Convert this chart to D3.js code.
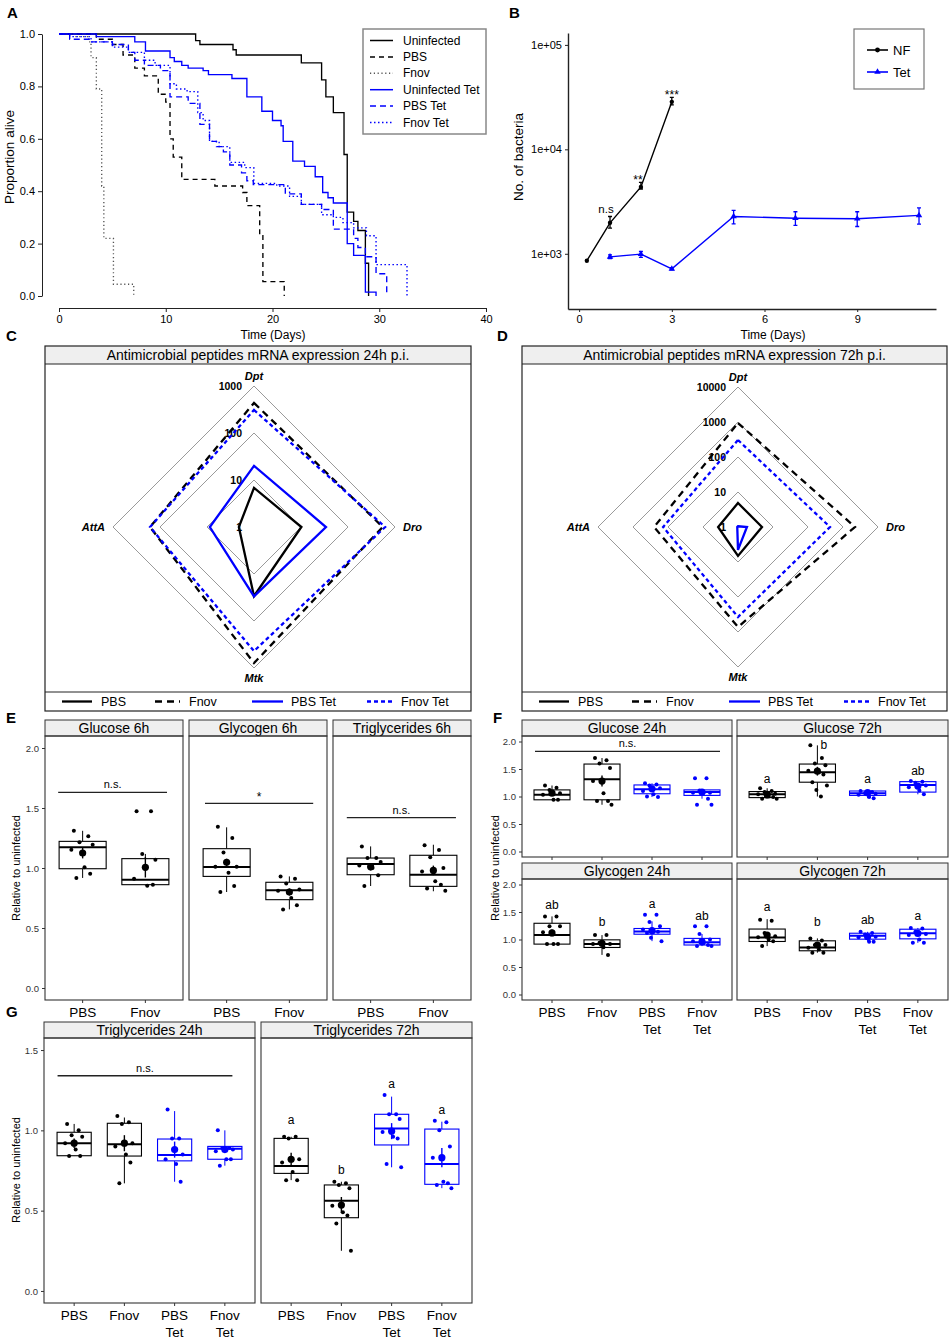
<!DOCTYPE html>
<html><head><meta charset="utf-8">
<script src="https://cdn.jsdelivr.net/npm/d3@7"></script>
<style>
body{margin:0;background:#fff;}
svg{font-family:"Liberation Sans",Arial,Helvetica,sans-serif;}
</style></head><body>
<script>
// ================= DATA =================
// Panel A : Kaplan-Meier survival, [day, proportion alive]
const survUninfected = [[0,1],[12.8,0.975],[13.2,0.96],[16.3,0.94],[16.6,0.92],[22.7,0.89],[24.6,0.825],[25,0.76],[25.7,0.70],[26.7,0.54],[27,0.32],[27.6,0.285],[28,0.25],[28.7,0.125],[29,0]];
const survPBS = [[0,1],[3.5,0.98],[5,0.96],[6,0.92],[7.1,0.87],[8,0.84],[9.3,0.77],[10,0.74],[10.4,0.60],[10.7,0.53],[11.5,0.445],[14.6,0.42],[17.2,0.395],[17.6,0.345],[18.8,0.23],[19.1,0.055],[21.1,0]];
const survFnov = [[0,1],[1.5,0.99],[2.8,0.97],[3.0,0.91],[3.5,0.79],[4,0.42],[4.2,0.22],[5.1,0.045],[7,0]];
const survUninfTet = [[0,1],[3.5,0.99],[7.1,0.97],[8.1,0.935],[10.4,0.91],[10.8,0.895],[11.5,0.88],[12.1,0.87],[13.5,0.86],[14,0.845],[16.2,0.83],[17.6,0.76],[19,0.705],[20,0.67],[20.8,0.65],[21,0.59],[21.9,0.515],[23,0.495],[24,0.455],[24.7,0.395],[25.2,0.375],[25.7,0.355],[27,0.2],[27.6,0.155],[28.7,0.015],[29.7,0]];
const survPBSTet = [[0,1],[1,0.98],[3,0.97],[5,0.96],[6.5,0.93],[7.1,0.9],[8,0.88],[9.5,0.86],[10.4,0.76],[12.1,0.735],[13.2,0.655],[14.1,0.59],[14.75,0.57],[15.4,0.55],[16,0.5],[17.1,0.47],[17.6,0.44],[18.2,0.425],[21.2,0.39],[22.7,0.35],[24.6,0.33],[25.7,0.255],[27.6,0.22],[28,0.185],[28.7,0.15],[29.7,0.085],[30.7,0]];
const survFnovTet = [[0,1],[1,0.99],[3,0.97],[5,0.95],[6.5,0.93],[8,0.9],[9,0.88],[10.4,0.81],[11,0.79],[12,0.78],[13,0.7],[13.5,0.67],[14.1,0.59],[15,0.57],[16,0.51],[17.4,0.49],[18.25,0.43],[20.4,0.42],[21.6,0.38],[22.7,0.35],[24.6,0.31],[25.7,0.3],[26.6,0.28],[27.6,0.26],[28.8,0.23],[29.7,0.12],[32.6,0]];
const survLabels = ["Uninfected","PBS","Fnov","Uninfected Tet","PBS Tet","Fnov Tet"];
const survXTicks = [0,10,20,30,40];
const survYTicks = [0,0.2,0.4,0.6,0.8,1.0];

// Panel B : bacterial load
const nfDays = [0.25,1,2,3];
const nfVals = [858,1980,4370,28500];
const nfLo = [858,1763,4170,26700];
const nfHi = [858,2275,4820,31400];
const nfSig = ["","n.s","**","***"];
const tetDays = [1,2,3,5,7,9,11];
const tetVals = [935,993,717,2275,2190,2165,2330];
const tetLo = [900,922,700,1937,1867,1825,1924];
const tetHi = [975,1052,735,2600,2525,2525,2755];
const bLegend = ["NF","Tet"];
const bXTicks = [0,3,6,9];
const bYTicks = [1e3,1e4,1e5];

// Panels C, D : AMP expression radar (fold change), genes clockwise from top
const ampGenes = ["Dpt","Dro","Mtk","AttA"];
const ampGroups = ["PBS","Fnov","PBS Tet","Fnov Tet"];
const amp24PBS = [6.8,10.2,29.6,2.1];
const amp24Fnov = [437,550,785,163];
const amp24PBSTet = [20,34,30,8.7];
const amp24FnovTet = [309,617,437,163];
const amp72PBS = [4.85,4.85,6.7,3.7];
const amp72Fnov = [935,2200,720,250];
const amp72PBSTet = [1.05,1.8,4.5,1.05];
const amp72FnovTet = [306,425,372,138];
const ring24 = [10,100,1000];
const ring72 = [10,100,1000,10000];

// Panels E, F, G : box stats [q1, median, q3, whiskerLow, whiskerHigh, mean, se]
const catsE = ["PBS","Fnov"];
const catsF = ["PBS","Fnov","PBS\nTet","Fnov\nTet"];
const yTicksEF = [0,0.5,1,1.5,2];
const yTicksG = [0,0.5,1,1.5];

const gluc6hStats = [[0.994,1.172,1.222,0.917,1.31,1.125,0.045],[0.861,0.903,1.078,0.853,1.117,1.006,0.085]];
const gluc6hPts = [[1.31,1.264,1.214,1.194,1.153,1.006,0.953,0.917],[1.472,1.472,1.117,1.069,0.911,0.853,0.861]];
const glyc6hStats = [[0.93,1.008,1.161,0.8,1.339,1.047,0.03],[0.736,0.814,0.881,0.655,0.93,0.80,0.03]];
const glyc6hPts = [[1.344,1.25,1.13,1.01,1.01,0.96,0.85,0.80],[0.93,0.91,0.87,0.82,0.81,0.75,0.69,0.655]];
const trig6hStats = [[0.944,1.033,1.083,0.85,1.18,1.01,0.03],[0.847,0.944,1.106,0.806,1.194,0.98,0.04]];
const trig6hPts = [[1.18,1.083,1.083,1.05,1.02,1.0,0.94,0.85],[1.19,1.15,1.09,1.0,0.97,0.89,0.86,0.83,0.81]];

const gluc24Stats = [[0.94,1.03,1.12,0.94,1.2,1.06,0.03],[0.94,1.315,1.59,0.85,1.7,1.28,0.1],[1.05,1.13,1.21,0.99,1.24,1.14,0.03],[1.02,1.08,1.12,0.96,1.12,1.08,0.04]];
const gluc24Pts = [[1.2,1.16,1.12,1.06,1.03,0.94,0.94],[1.7,1.66,1.6,1.52,1.28,1.06,0.92,0.92,0.85],[1.24,1.22,1.2,1.15,1.1,1.04,0.99,1.0],[1.33,1.33,1.11,1.07,1.07,1.07,0.96,0.85,0.85]];
const gluc72Stats = [[0.98,1.04,1.09,0.96,1.15,1.04,0.02],[1.26,1.44,1.59,1.0,1.93,1.46,0.08],[1.02,1.06,1.1,0.97,1.1,1.07,0.02],[1.08,1.21,1.27,1.04,1.28,1.19,0.03]];
const gluc72Pts = [[1.15,1.1,1.08,1.05,1.04,1.0,0.99,0.96,0.96,1.0],[1.93,1.7,1.6,1.57,1.47,1.44,1.4,1.26,1.2,1.12,1.0],[1.1,1.08,1.06,1.05,1.03,0.99,0.97],[1.28,1.27,1.25,1.2,1.17,1.11,1.04]];
const gluc72Letters = [["a",1.32],["b",1.93,0.13],["a",1.32],["ab",1.47]];
const glyc24Stats = [[0.916,1.084,1.295,0.92,1.42,1.12,0.06],[0.855,0.916,0.994,0.72,1.08,0.93,0.04],[1.096,1.145,1.2,0.97,1.33,1.16,0.04],[0.9,0.95,1.02,0.88,1.1,0.96,0.03]];
const glyc24Pts = [[1.42,1.42,1.24,1.24,1.13,0.92,0.92,0.92],[1.08,1.08,0.94,0.92,0.92,0.86,0.72],[1.45,1.45,1.32,1.24,1.18,1.14,1.14,1.12,0.97,1.03],[1.24,1.24,1.1,1.0,0.97,0.93,0.9,0.88,0.88]];
const glyc24Letters = [["ab",1.63],["b",1.31],["a",1.64],["ab",1.43]];
const glyc72Stats = [[0.964,1.036,1.19,0.88,1.37,1.08,0.05],[0.795,0.855,0.976,0.76,1.02,0.9,0.03],[1.006,1.066,1.114,0.96,1.14,1.05,0.02],[1.012,1.114,1.187,0.94,1.21,1.11,0.03]];
const glyc72Pts = [[1.36,1.34,1.12,1.06,1.04,1.0,0.97,0.88],[1.02,0.98,0.9,0.9,0.85,0.82,0.76,0.76],[1.14,1.12,1.09,1.05,1.04,0.96,0.96],[1.21,1.2,1.14,1.1,1.08,1.0,0.94,0.94]];
const glyc72Letters = [["a",1.6],["b",1.31],["ab",1.36],["a",1.43]];

const trig24Stats = [[0.842,0.919,0.988,0.84,1.04,0.92,0.03],[0.84,0.913,1.044,0.67,1.08,0.92,0.05],[0.81,0.846,0.946,0.68,1.12,0.88,0.05],[0.82,0.886,0.9,0.78,1.0,0.88,0.02]];
const trig24Pts = [[1.04,1.0,0.97,0.96,0.92,0.88,0.84,0.84],[1.09,1.05,1.04,0.92,0.9,0.85,0.8,0.67],[1.13,0.95,0.95,0.85,0.82,0.79,0.68],[1.0,0.89,0.89,0.88,0.87,0.82,0.82,0.78]];
const trig72Stats = [[0.732,0.778,0.95,0.69,0.96,0.82,0.04],[0.456,0.562,0.66,0.25,0.68,0.535,0.05],[0.909,1.012,1.1,0.77,1.21,0.995,0.05],[0.664,0.79,1.008,0.64,1.054,0.83,0.06]];
const trig72Pts = [[0.96,0.96,0.95,0.82,0.8,0.74,0.69,0.69],[0.68,0.67,0.66,0.64,0.53,0.49,0.47,0.42,0.25],[1.22,1.1,1.1,1.07,0.99,0.96,0.95,0.79,0.77],[1.06,1.05,1.0,0.9,0.83,0.68,0.67,0.66,0.64]];
const trig72Letters = [["a",1.064],["b",0.753],["a",1.29],["a",1.127]];

// ================= DRAWING =================
const BLUE = "#0000ff";
const svg = d3.select("body").append("svg").attr("width",952).attr("height",1339);
svg.append("rect").attr("width",952).attr("height",1339).attr("fill","#fff");

function styleAxis(sel, fs){
  sel.selectAll("text").attr("font-size",fs).attr("fill","#000");
  sel.selectAll("path,line").attr("stroke","#222");
}
function txt(g,x,y,s,opts={}){
  const t = g.append("text").attr("x",x).attr("y",y).text(s)
    .attr("font-size",opts.fs||12).attr("text-anchor",opts.anchor||"start").attr("fill",opts.fill||"#000");
  if(opts.bold) t.attr("font-weight","bold");
  if(opts.italic) t.attr("font-style","italic");
  if(opts.rotate) t.attr("transform",`rotate(${opts.rotate},${x},${y})`);
  return t;
}

// panel letters
[["A",7,18],["B",509,18],["C",6,341],["D",497,341],["E",6,723],["F",493,723],["G",6,1017]]
  .forEach(([l,x,y])=>txt(svg,x,y,l,{fs:15,bold:true}));

// ---------- Panel A ----------
(function(){
  const g = svg.append("g");
  const x = d3.scaleLinear([0,40],[59,486]);
  const y = d3.scaleLinear([0,1],[296,34]);
  g.append("g").attr("transform","translate(42,0)")
    .call(d3.axisLeft(y).tickValues(survYTicks).tickFormat(d3.format(".1f")).tickSize(4).tickSizeOuter(0))
    .call(s=>styleAxis(s,11));
  g.append("g").attr("transform","translate(0,308)")
    .call(d3.axisBottom(x).tickValues(survXTicks).tickSize(4).tickSizeOuter(0))
    .call(s=>styleAxis(s,11));
  txt(g,273,339,"Time (Days)",{fs:12,anchor:"middle"});
  txt(g,14,157,"Proportion alive",{fs:13.5,anchor:"middle",rotate:-90});
  const series = [survUninfected,survPBS,survFnov,survUninfTet,survPBSTet,survFnovTet];
  const styles = [["#000",null],["#000","5,4"],["#555","1.2,2.6"],[BLUE,null],[BLUE,"6,4"],[BLUE,"1.5,2.5"]];
  const line = d3.line().x(d=>x(d[0])).y(d=>y(d[1])).curve(d3.curveStepAfter);
  series.forEach((s,i)=>{
    g.append("path").attr("d",line(s)).attr("fill","none").attr("stroke",styles[i][0])
      .attr("stroke-width",1.35).attr("stroke-dasharray",styles[i][1]);
  });
  g.append("rect").attr("x",363).attr("y",29).attr("width",123).attr("height",105)
    .attr("fill","#fff").attr("stroke","#888").attr("stroke-width",1.5);
  survLabels.forEach((l,i)=>{
    const yy = 40.5 + i*16.4;
    g.append("line").attr("x1",370).attr("x2",393).attr("y1",yy).attr("y2",yy)
      .attr("stroke",styles[i][0]).attr("stroke-width",1.5).attr("stroke-dasharray",styles[i][1]);
    txt(g,403,yy+4,l,{fs:12});
  });
})();

// ---------- Panel B ----------
(function(){
  const g = svg.append("g");
  const x = d3.scaleLinear([-0.36,11.55],[568,936]);
  const y = d3.scaleLog([296,130000],[309,33]);
  g.append("g").attr("transform","translate(568,0)")
    .call(d3.axisLeft(y).tickValues(bYTicks).tickFormat(d=>"1e+0"+Math.round(Math.log10(d))).tickSize(3).tickSizeOuter(0))
    .call(s=>styleAxis(s,11));
  g.append("g").attr("transform","translate(0,309)")
    .call(d3.axisBottom(x).tickValues(bXTicks).tickSize(3).tickSizeOuter(0))
    .call(s=>styleAxis(s,11));
  g.selectAll(".domain").attr("stroke-width",1.4);
  txt(g,773,339,"Time (Days)",{fs:12,anchor:"middle"});
  txt(g,523,157,"No. of bacteria",{fs:13.5,anchor:"middle",rotate:-90});
  const line = d3.line();
  // NF
  g.append("path").attr("d",line(nfDays.map((d,i)=>[x(d),y(nfVals[i])]))).attr("fill","none").attr("stroke","#000").attr("stroke-width",1.4);
  nfDays.forEach((d,i)=>{
    if(nfHi[i]!==nfLo[i]){
      g.append("path").attr("d",`M${x(d)-2},${y(nfHi[i])}h4M${x(d)},${y(nfHi[i])}V${y(nfLo[i])}M${x(d)-2},${y(nfLo[i])}h4`)
        .attr("stroke","#000").attr("stroke-width",1.3).attr("fill","none");
    }
    g.append("circle").attr("cx",x(d)).attr("cy",y(nfVals[i])).attr("r",2.2).attr("fill","#000");
    if(nfSig[i]){
      const ast = nfSig[i].startsWith("*");
      txt(g,x(d)-(ast?(i===2?3:0):4),y(nfHi[i])+(ast?1.5:-3),nfSig[i],{fs:ast?12:11.5,anchor:"middle"});
    }
  });
  // Tet
  g.append("path").attr("d",line(tetDays.map((d,i)=>[x(d),y(tetVals[i])]))).attr("fill","none").attr("stroke",BLUE).attr("stroke-width",1.4);
  const tri = d3.symbol(d3.symbolTriangle).size(18);
  tetDays.forEach((d,i)=>{
    g.append("path").attr("d",`M${x(d)-2},${y(tetHi[i])}h4M${x(d)},${y(tetHi[i])}V${y(tetLo[i])}M${x(d)-2},${y(tetLo[i])}h4`)
      .attr("stroke",BLUE).attr("stroke-width",1.3).attr("fill","none");
    g.append("path").attr("d",tri()).attr("transform",`translate(${x(d)},${y(tetVals[i])})`).attr("fill",BLUE);
  });
  // legend
  g.append("rect").attr("x",854).attr("y",29).attr("width",70).attr("height",60)
    .attr("fill","#fff").attr("stroke","#777").attr("stroke-width",1.2);
  bLegend.forEach((l,i)=>{
    const yy = 50 + i*22, col = i?BLUE:"#000";
    g.append("line").attr("x1",867).attr("x2",888).attr("y1",yy).attr("y2",yy).attr("stroke",col).attr("stroke-width",1.6);
    if(i) g.append("path").attr("d",tri()).attr("transform",`translate(877.5,${yy})`).attr("fill",col);
    else g.append("circle").attr("cx",877.5).attr("cy",yy).attr("r",2.4).attr("fill",col);
    txt(g,893,yy+4.5,l,{fs:13});
  });
})();

// ---------- Panels C, D : radar ----------
function radar(cfg){
  const {bx0,by0,bx1,by1,title,cx,cy,rmax,maxV,rings,series} = cfg;
  const g = svg.append("g");
  g.append("rect").attr("x",bx0).attr("y",by0).attr("width",bx1-bx0).attr("height",18).attr("fill","#efefef");
  g.append("line").attr("x1",bx0).attr("x2",bx1).attr("y1",by0+18).attr("y2",by0+18).attr("stroke","#222");
  g.append("line").attr("x1",bx0).attr("x2",bx1).attr("y1",by1-19).attr("y2",by1-19).attr("stroke","#222");
  g.append("rect").attr("x",bx0).attr("y",by0).attr("width",bx1-bx0).attr("height",by1-by0).attr("fill","none").attr("stroke","#222").attr("stroke-width",1.2);
  txt(g,(bx0+bx1)/2,by0+14,title,{fs:14,anchor:"middle"});
  const r = d3.scaleLog([1,maxV],[0,rmax]);
  const ang = [0,90,180,270].map(a=>a*Math.PI/180);
  const pt = (v,i)=>[cx + r(v)*Math.sin(ang[i]), cy - r(v)*Math.cos(ang[i])];
  const poly = vals => "M"+vals.map(pt).map(p=>p.join(",")).join("L")+"Z";
  rings.forEach(v=>{
    g.append("path").attr("d",poly([v,v,v,v])).attr("fill","none").attr("stroke","#9a9a9a").attr("stroke-width",1);
  });
  [1].concat(rings).forEach(v=>txt(g,cx-12,cy-r(v)+4,String(v),{fs:10.5,bold:true,anchor:"end"}));
  txt(g,cx,cy-rmax-6,ampGenes[0],{fs:11,bold:true,italic:true,anchor:"middle"});
  txt(g,cx+rmax+8,cy+4,ampGenes[1],{fs:11,bold:true,italic:true});
  txt(g,cx,cy+rmax+14,ampGenes[2],{fs:11,bold:true,italic:true,anchor:"middle"});
  txt(g,cx-rmax-8,cy+4,ampGenes[3],{fs:11,bold:true,italic:true,anchor:"end"});
  const sty = [["#000",null],["#000","7,5"],[BLUE,null],[BLUE,"4,3"]];
  series.forEach((s,i)=>{
    g.append("path").attr("d",poly(s)).attr("fill","none").attr("stroke",sty[i][0])
      .attr("stroke-width",2.3).attr("stroke-dasharray",sty[i][1]).attr("stroke-linejoin","miter");
  });
  const legX = [[17,47,56],[110,135,144],[207,238,246],[322,347,356]];
  const ly = by1-9.5;
  ampGroups.forEach((l,i)=>{
    g.append("line").attr("x1",bx0+legX[i][0]).attr("x2",bx0+legX[i][1]).attr("y1",ly).attr("y2",ly)
      .attr("stroke",sty[i][0]).attr("stroke-width",2.3).attr("stroke-dasharray",sty[i][1]);
    txt(g,bx0+legX[i][2],ly+4.5,l,{fs:12.5});
  });
}
radar({bx0:45,by0:346,bx1:471,by1:711,title:"Antimicrobial peptides mRNA expression 24h p.i.",
  cx:254,cy:527,rmax:141,maxV:1000,rings:ring24,series:[amp24PBS,amp24Fnov,amp24PBSTet,amp24FnovTet]});
radar({bx0:522,by0:346,bx1:947,by1:711,title:"Antimicrobial peptides mRNA expression 72h p.i.",
  cx:738,cy:527,rmax:140,maxV:10000,rings:ring72,series:[amp72PBS,amp72Fnov,amp72PBSTet,amp72FnovTet]});

// ---------- Box plot facets ----------
const JITTER = [-0.14,0.09,-0.05,0.16,-0.18,0.03,0.12,-0.1,0.19,-0.02,0.07];
function boxFacet(cfg){
  const {x0,x1,top,bottom,domain,cats,stats,pts,title,sig,letters,yTicks,showY,boxW,xLabels} = cfg;
  const stripH = 16;
  const g = svg.append("g");
  const xs = d3.scaleLinear([-0.6,cats.length-0.4],[x0,x1]);
  const ys = d3.scaleLinear(domain,[bottom,top+stripH]);
  const unit = xs(1)-xs(0);
  g.append("rect").attr("x",x0).attr("y",top).attr("width",x1-x0).attr("height",stripH).attr("fill","#efefef").attr("stroke","#333").attr("stroke-width",1);
  txt(g,(x0+x1)/2,top+12.5,title,{fs:14,anchor:"middle"});
  g.append("rect").attr("x",x0).attr("y",top+stripH).attr("width",x1-x0).attr("height",bottom-top-stripH).attr("fill","none").attr("stroke","#333").attr("stroke-width",1.1);
  if(showY){
    const ax = g.append("g").attr("transform",`translate(${x0},0)`)
      .call(d3.axisLeft(ys).tickValues(yTicks).tickFormat(d3.format(".1f")).tickSize(3));
    ax.select(".domain").remove();
    ax.selectAll("text").attr("font-size",9.5).attr("fill","#333");
    ax.selectAll("line").attr("stroke","#333");
  }
  cats.forEach((c,i)=>{
    g.append("line").attr("x1",xs(i)).attr("x2",xs(i)).attr("y1",bottom).attr("y2",bottom+3).attr("stroke","#333");
    if(xLabels) c.split("\n").forEach((l,k)=>txt(g,xs(i),bottom+16.5+k*17,l,{fs:13.5,anchor:"middle"}));
  });
  stats.forEach((s,i)=>{
    const [q1,med,q3,wl,wh,mean,se] = s;
    const col = cats[i].includes("Tet") ? BLUE : "#000";
    const cx = xs(i), hw = unit*boxW/2;
    g.append("line").attr("x1",cx).attr("x2",cx).attr("y1",ys(q3)).attr("y2",ys(wh)).attr("stroke",col);
    g.append("line").attr("x1",cx).attr("x2",cx).attr("y1",ys(q1)).attr("y2",ys(wl)).attr("stroke",col);
    g.append("rect").attr("x",cx-hw).attr("y",ys(q3)).attr("width",2*hw).attr("height",ys(q1)-ys(q3))
      .attr("fill","#fff").attr("stroke",col).attr("stroke-width",1.1);
    g.append("line").attr("x1",cx-hw).attr("x2",cx+hw).attr("y1",ys(med)).attr("y2",ys(med)).attr("stroke",col).attr("stroke-width",2);
    pts[i].forEach((v,j)=>{
      g.append("circle").attr("cx",cx+JITTER[j%JITTER.length]*unit).attr("cy",ys(v)).attr("r",2).attr("fill",col);
    });
    g.append("line").attr("x1",cx).attr("x2",cx).attr("y1",ys(mean-se)).attr("y2",ys(mean+se)).attr("stroke",col).attr("stroke-width",1.4);
    g.append("circle").attr("cx",cx).attr("cy",ys(mean)).attr("r",3.6).attr("fill",col);
  });
  if(sig){
    g.append("line").attr("x1",xs(sig[2])).attr("x2",xs(sig[3])).attr("y1",ys(sig[0])).attr("y2",ys(sig[0])).attr("stroke","#222").attr("stroke-width",1.3);
    txt(g,(xs(sig[2])+xs(sig[3]))/2,ys(sig[0])-(sig[1]==="*"?2:4),sig[1],{fs:sig[1]==="*"?12:11,anchor:"middle"});
  }
  if(letters) letters.forEach(([l,v,dx],i)=>txt(g,xs(i+(dx||0)),ys(v)+4,l,{fs:12,anchor:"middle"}));
}

// Panel E
const eCommon = {top:720,bottom:1000,domain:[-0.1,2.1],cats:catsE,yTicks:yTicksEF,boxW:0.75,xLabels:true};
boxFacet({...eCommon,x0:45,x1:183,stats:gluc6hStats,pts:gluc6hPts,title:"Glucose 6h",sig:[1.63,"n.s.",-0.39,1.345],showY:true});
boxFacet({...eCommon,x0:189,x1:327,stats:glyc6hStats,pts:glyc6hPts,title:"Glycogen 6h",sig:[1.539,"*",-0.345,1.38]});
boxFacet({...eCommon,x0:333,x1:471,stats:trig6hStats,pts:trig6hPts,title:"Triglycerides 6h",sig:[1.42,"n.s.",-0.38,1.36]});
txt(svg,20,868,"Relative to uninfected",{fs:11,anchor:"middle",rotate:-90});

// Panel F
const fCommon = {domain:[-0.1,2.1],cats:catsF,yTicks:yTicksEF,boxW:0.72};
boxFacet({...fCommon,x0:522,x1:732,top:720,bottom:857,stats:gluc24Stats,pts:gluc24Pts,title:"Glucose 24h",sig:[1.82,"n.s.",-0.34,3.36],showY:true});
boxFacet({...fCommon,x0:737,x1:948,top:720,bottom:857,stats:gluc72Stats,pts:gluc72Pts,title:"Glucose 72h",letters:gluc72Letters});
boxFacet({...fCommon,x0:522,x1:732,top:863,bottom:1000,stats:glyc24Stats,pts:glyc24Pts,title:"Glycogen 24h",letters:glyc24Letters,showY:true,xLabels:true});
boxFacet({...fCommon,x0:737,x1:948,top:863,bottom:1000,stats:glyc72Stats,pts:glyc72Pts,title:"Glycogen 72h",letters:glyc72Letters,xLabels:true});
txt(svg,499,868,"Relative to uninfected",{fs:11,anchor:"middle",rotate:-90});

// Panel G
const gCommon = {top:1022,bottom:1303,domain:[-0.075,1.575],cats:catsF,yTicks:yTicksG,boxW:0.68,xLabels:true};
boxFacet({...gCommon,x0:44,x1:255,stats:trig24Stats,pts:trig24Pts,title:"Triglycerides 24h",sig:[1.34,"n.s.",-0.33,3.15],showY:true});
boxFacet({...gCommon,x0:261,x1:472,stats:trig72Stats,pts:trig72Pts,title:"Triglycerides 72h",letters:trig72Letters});
txt(svg,20,1170,"Relative to uninfected",{fs:11,anchor:"middle",rotate:-90});
</script></body></html>
